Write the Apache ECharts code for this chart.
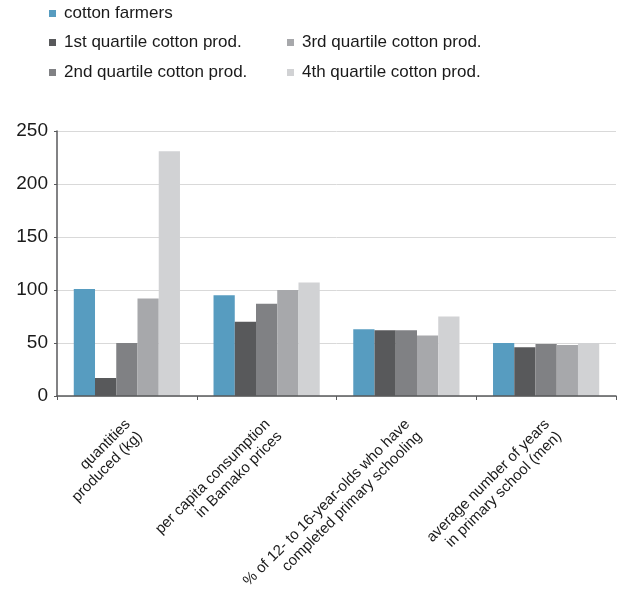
<!DOCTYPE html>
<html>
<head>
<meta charset="utf-8">
<script src="https://cdn.jsdelivr.net/npm/echarts@6/dist/echarts.min.js"></script>
<style>
  html, body { margin: 0; padding: 0; background: #fff; }
  #chart { width: 619px; height: 589px; }
</style>
</head>
<body>
<div id="chart"></div>
<script>
const categories = [
  'quantities\nproduced (kg)',
  'per capita consumption\nin Bamako prices',
  '% of 12- to 16-year-olds who have\ncompleted primary schooling',
  'average number of years\nin primary school (men)'
];
const seriesNames = [
  'cotton farmers',
  '1st quartile cotton prod.',
  '2nd quartile cotton prod.',
  '3rd quartile cotton prod.',
  '4th quartile cotton prod.'
];
const cottonFarmers = [101, 95, 63, 50];
const quartile1 = [17, 70, 62, 46];
const quartile2 = [50, 87, 62, 49];
const quartile3 = [92, 100, 57, 48];
const quartile4 = [231, 107, 75, 50];
const yTicks = [0, 50, 100, 150, 200, 250];

const colors = ['#579cc0', '#58595b', '#808184', '#a7a8ab', '#d1d2d4'];
const values = [cottonFarmers, quartile1, quartile2, quartile3, quartile4];
const font = 'Liberation Sans, Arial, sans-serif';
const catFontSize = 15;

// Centre each line of a two-line category label: shorter lines get left padding
// equal to half of their width deficit against the longest line.
const measureCtx = document.createElement('canvas').getContext('2d');
measureCtx.font = catFontSize + 'px ' + font;
const catRich = {};
const catFormatted = categories.map((label, ci) => {
  const lines = label.split('\n');
  const widths = lines.map(l => measureCtx.measureText(l).width);
  const maxW = Math.max.apply(null, widths);
  return lines.map((l, li) => {
    const key = 'c' + ci + '_' + li;
    catRich[key] = {
      fontFamily: font, fontSize: catFontSize, color: '#1a1a1a', lineHeight: 17,
      padding: [0, 0, 0, (maxW - widths[li]) / 2]
    };
    return '{' + key + '|' + l + '}';
  }).join('\n');
});

const legendBase = {
  itemWidth: 7, itemHeight: 7, icon: 'rect', itemGap: 13,
  textStyle: { fontFamily: font, fontSize: 17, color: '#1a1a1a', padding: [0, 0, 0, 3] }
};

const chart = echarts.init(document.getElementById('chart'), null, { renderer: 'canvas' });
chart.setOption({
  animation: false,
  color: colors,
  legend: [
    Object.assign({}, legendBase, { data: [seriesNames[0]], left: 44, top: 0 }),
    Object.assign({}, legendBase, { data: [seriesNames[1], seriesNames[2]], orient: 'vertical', left: 44, top: 29 }),
    Object.assign({}, legendBase, { data: [seriesNames[3], seriesNames[4]], orient: 'vertical', left: 282, top: 29 })
  ],
  grid: { left: 57, right: 3, top: 131, bottom: 193, containLabel: false, outerBoundsMode: 'none' },
  xAxis: {
    type: 'category',
    data: categories,
    z: 3,
    axisLine: { lineStyle: { color: '#58595b', width: 1.5 } },
    axisTick: { show: true, length: 4, lineStyle: { color: '#58595b' } },
    axisLabel: {
      rotate: 45,
      interval: 0,
      margin: 8,
      verticalAlign: 'top',
      padding: [5, 12, 0, 0],
      fontFamily: font,
      fontSize: catFontSize,
      color: '#1a1a1a',
      lineHeight: 17,
      formatter: (v, i) => catFormatted[i],
      rich: catRich
    }
  },
  yAxis: {
    type: 'value',
    min: yTicks[0],
    max: yTicks[yTicks.length - 1],
    interval: 50,
    axisLine: { show: true, lineStyle: { color: '#58595b', width: 1.5 } },
    axisTick: { show: true, length: 3, lineStyle: { color: '#58595b' } },
    axisLabel: { fontFamily: font, fontSize: 19, color: '#1a1a1a', margin: 9 },
    splitLine: { lineStyle: { color: '#d9d9d9', width: 1 } }
  },
  series: seriesNames.map((name, i) => ({
    name: name,
    type: 'bar',
    data: values[i],
    barGap: '0%',
    barCategoryGap: '24%',
    itemStyle: { color: colors[i] }
  }))
});
</script>
</body>
</html>
